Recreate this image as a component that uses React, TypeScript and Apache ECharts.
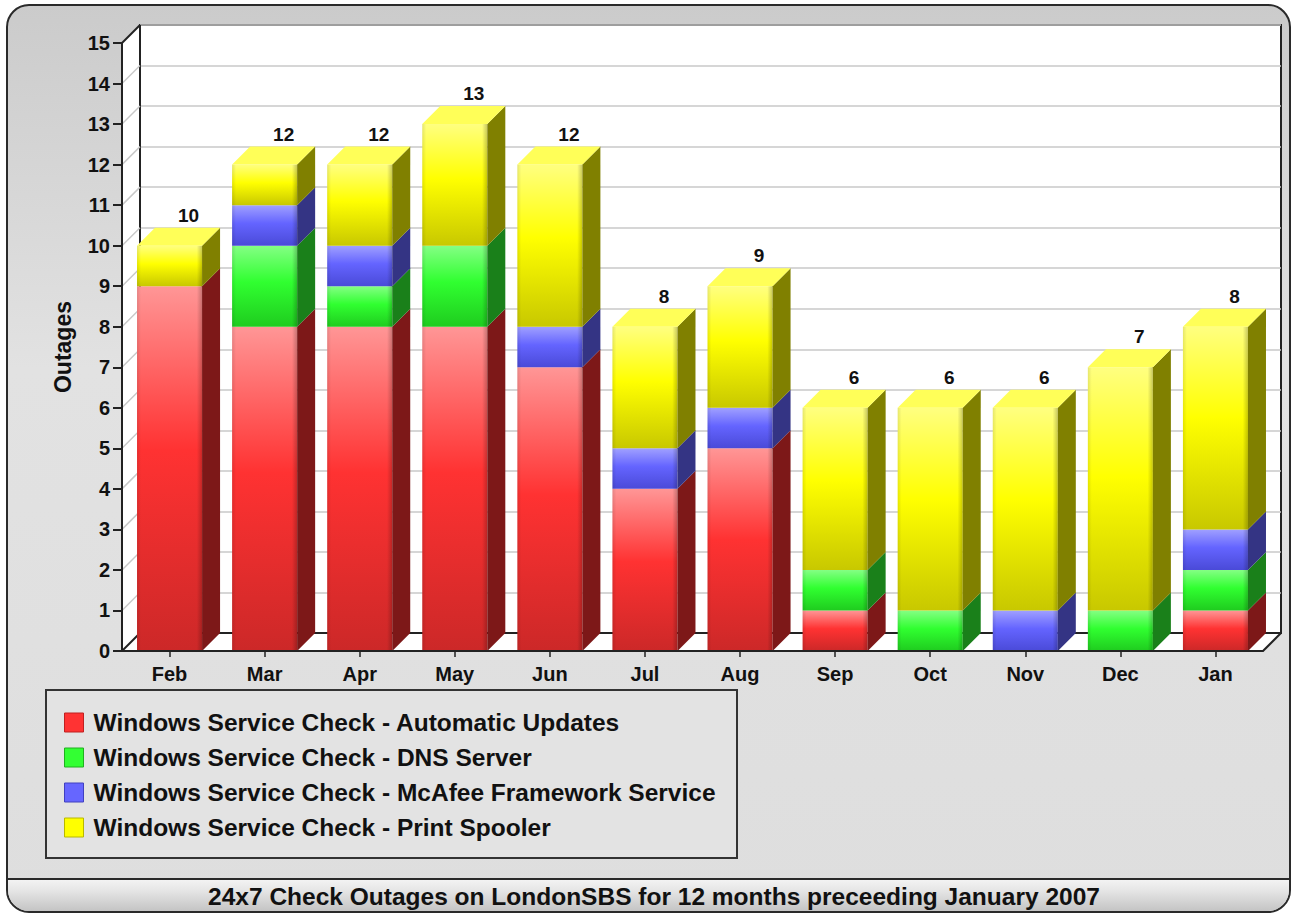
import React, { useEffect, useRef } from 'react';
import * as echarts from 'echarts';

const months = ['Feb', 'Mar', 'Apr', 'May', 'Jun', 'Jul', 'Aug', 'Sep', 'Oct', 'Nov', 'Dec', 'Jan'];
const automaticUpdates = [9, 8, 8, 8, 7, 4, 5, 1, 0, 0, 0, 1];
const dnsServer = [0, 2, 1, 2, 0, 0, 0, 1, 1, 0, 1, 1];
const mcafeeFramework = [0, 1, 1, 0, 1, 1, 1, 0, 0, 1, 0, 1];
const printSpooler = [1, 1, 2, 3, 4, 3, 3, 4, 5, 5, 6, 5];
const yTicks = [0, 1, 2, 3, 4, 5, 6, 7, 8, 9, 10, 11, 12, 13, 14, 15];
const seriesNames = [
  'Windows Service Check - Automatic Updates',
  'Windows Service Check - DNS Server',
  'Windows Service Check - McAfee Framework Service',
  'Windows Service Check - Print Spooler',
];
const chartTitle = '24x7 Check Outages on LondonSBS for 12 months preceeding January 2007';
const yAxisName = 'Outages';

const FONT = '"Liberation Sans", Arial, Helvetica, sans-serif';
const DX = 18;
const DY = 18;
const BAR_RATIO = 0.684;

const palettes = [
  { light: '#ff9696', base: '#ff3232', dark: '#cc2828', side: '#7d1818', top: '#ff6a6a', legend: '#ff3333', legendBorder: '#c02020' },
  { light: '#84ff84', base: '#30ff30', dark: '#1fcc1f', side: '#1a801a', top: '#66ff66', legend: '#33ff33', legendBorder: '#20b020' },
  { light: '#a0a0ff', base: '#6464ff', dark: '#4a4ad8', side: '#343484', top: '#8a8aff', legend: '#6666ff', legendBorder: '#4040c0' },
  { light: '#ffff80', base: '#ffff00', dark: '#c8c800', side: '#808000', top: '#ffff58', legend: '#ffff00', legendBorder: '#b8b800' },
];

const stacks = [automaticUpdates, dnsServer, mcafeeFramework, printSpooler];

function makeBarRender(pal: any) {
  return (params: any, api: any) => {
    const idx = api.value(0);
    const base = api.value(1);
    const val = api.value(2);
    const isTop = api.value(3);
    if (!val) return { type: 'group', children: [] };
    const pB = api.coord([idx, base]);
    const pT = api.coord([idx, base + val]);
    const bw = api.size([1, 0])[0] * BAR_RATIO;
    const x0 = pB[0] - bw / 2;
    const x1 = x0 + bw;
    const yB = pB[1];
    const yT = pT[1];
    const children: any[] = [
      {
        type: 'rect',
        shape: { x: x0, y: yT, width: bw, height: yB - yT },
        style: {
          fill: new echarts.graphic.LinearGradient(0, 0, 0, 1, [
            { offset: 0, color: pal.light },
            { offset: 0.45, color: pal.base },
            { offset: 1, color: pal.dark },
          ]),
        },
      },
      {
        type: 'rect',
        shape: { x: x0, y: yT, width: bw, height: yB - yT },
        style: {
          fill: new echarts.graphic.LinearGradient(0, 0, 1, 0, [
            { offset: 0, color: 'rgba(0,0,0,0.10)' },
            { offset: 0.06, color: 'rgba(0,0,0,0)' },
            { offset: 0.92, color: 'rgba(0,0,0,0)' },
            { offset: 1, color: 'rgba(0,0,0,0.22)' },
          ]),
        },
      },
      {
        type: 'polygon',
        shape: { points: [[x1, yT], [x1 + DX, yT - DY], [x1 + DX, yB - DY], [x1, yB]] },
        style: { fill: pal.side },
      },
    ];
    if (isTop) {
      children.push({
        type: 'polygon',
        shape: { points: [[x0, yT], [x0 + DX, yT - DY], [x1 + DX, yT - DY], [x1, yT]] },
        style: { fill: pal.top },
      });
    }
    return { type: 'group', children };
  };
}

export default function App() {
  const ref = useRef<HTMLDivElement>(null);

  useEffect(() => {
    if (!ref.current) return;
    const chart = echarts.init(ref.current, undefined, { renderer: 'svg' });

    const totals = months.map((_, i) => stacks.reduce((s, arr) => s + arr[i], 0));

    const barSeries = stacks.map((arr, si) => {
      const data = months.map((_, i) => {
        let base = 0;
        for (let k = 0; k < si; k++) base += stacks[k][i];
        let topIdx = -1;
        for (let k = 0; k < stacks.length; k++) if (stacks[k][i] > 0) topIdx = k;
        return [i, base, arr[i], topIdx === si ? 1 : 0];
      });
      return {
        type: 'custom',
        name: seriesNames[si],
        xAxisIndex: 0,
        yAxisIndex: 0,
        clip: false,
        z: 3,
        itemStyle: { color: palettes[si].legend },
        encode: { x: 0, y: 2 },
        data,
        renderItem: makeBarRender(palettes[si]),
      };
    });

    const wallSeries = {
      type: 'custom',
      name: 'walls',
      xAxisIndex: 0,
      yAxisIndex: 0,
      clip: false,
      z: 1,
      silent: true,
      encode: { x: 0, y: 1 },
      data: yTicks.map((v) => [0, v]),
      renderItem: (params: any, api: any) => {
        const cs = params.coordSys;
        const left = cs.x;
        const right = cs.x + cs.width;
        const top = cs.y;
        const bottom = cs.y + cs.height;
        const v = api.value(1);
        const y = api.coord([0, v])[1];
        const children: any[] = [];
        if (v === 0) {
          children.push({
            type: 'polygon',
            shape: { points: [[left, bottom], [left, top], [left + DX, top - DY], [left + DX, bottom - DY]] },
            style: { fill: '#ffffff' },
          });
          children.push({
            type: 'polygon',
            shape: { points: [[left, bottom], [right, bottom], [right + DX, bottom - DY], [left + DX, bottom - DY]] },
            style: { fill: '#ffffff' },
          });
          children.push({
            type: 'line',
            shape: { x1: left + DX, y1: top - DY, x2: left + DX, y2: bottom - DY },
            style: { stroke: '#222', lineWidth: 2 },
          });
          children.push({
            type: 'line',
            shape: { x1: left + DX, y1: bottom - DY, x2: right + DX, y2: bottom - DY },
            style: { stroke: '#222', lineWidth: 2 },
          });
          children.push({
            type: 'line',
            shape: { x1: right, y1: bottom, x2: right + DX, y2: bottom - DY },
            style: { stroke: '#222', lineWidth: 2 },
          });
        }
        const edge = v === 0 || v === yTicks[yTicks.length - 1];
        children.push({
          type: 'line',
          shape: { x1: left, y1: y, x2: left + DX, y2: y - DY },
          style: { stroke: edge ? '#222' : '#c8c8c8', lineWidth: edge ? 2 : 1.5 },
        });
        return { type: 'group', children };
      },
    };

    const labelSeries = {
      type: 'custom',
      name: 'totals',
      xAxisIndex: 0,
      yAxisIndex: 0,
      clip: false,
      z: 5,
      silent: true,
      encode: { x: 0, y: 1 },
      data: totals.map((t, i) => [i, t]),
      renderItem: (params: any, api: any) => {
        const p = api.coord([api.value(0), api.value(1)]);
        return {
          type: 'text',
          x: p[0] + DX + 1,
          y: p[1] - DY - 3,
          style: {
            text: String(api.value(1)),
            fill: '#111',
            fontSize: 19,
            fontWeight: 'bold',
            fontFamily: FONT,
            align: 'center',
            verticalAlign: 'bottom',
          },
        };
      },
    };

    const option: any = {
      animation: false,
      grid: [
        { left: 122, top: 43, width: 1141, height: 608, show: false },
        {
          left: 122 + DX,
          top: 43 - DY,
          width: 1141,
          height: 608,
          show: true,
          backgroundColor: '#ffffff',
          borderColor: '#222',
          borderWidth: 2,
        },
      ],
      xAxis: [
        {
          type: 'category',
          gridIndex: 0,
          data: months,
          boundaryGap: true,
          axisLine: { show: true, lineStyle: { color: '#222', width: 2 } },
          axisTick: { show: true, alignWithLabel: true, length: 6, lineStyle: { color: '#222', width: 1.5 } },
          axisLabel: { color: '#111', fontSize: 20, fontWeight: 'bold', fontFamily: FONT, margin: 13 },
          splitLine: { show: false },
          z: 6,
        },
        { type: 'category', gridIndex: 1, data: months, show: false },
      ],
      yAxis: [
        {
          type: 'value',
          gridIndex: 0,
          min: 0,
          max: 15,
          interval: 1,
          name: yAxisName,
          nameLocation: 'middle',
          nameRotate: 90,
          nameGap: 48,
          nameTextStyle: { color: '#111', fontSize: 23, fontWeight: 'bold', fontFamily: FONT },
          axisLine: { show: true, lineStyle: { color: '#222', width: 2 } },
          axisTick: { show: true, length: 9, lineStyle: { color: '#222', width: 2 } },
          axisLabel: { color: '#111', fontSize: 20, fontWeight: 'bold', fontFamily: FONT, margin: 12 },
          splitLine: { show: false },
          z: 6,
        },
        {
          type: 'value',
          gridIndex: 1,
          min: 0,
          max: 15,
          interval: 1,
          axisLine: { show: false },
          axisTick: { show: false },
          axisLabel: { show: false },
          splitLine: { show: true, lineStyle: { color: '#c8c8c8', width: 1.5 } },
        },
      ],
      legend: {
        orient: 'vertical',
        left: 64,
        top: 710,
        itemWidth: 19,
        itemHeight: 19,
        itemGap: 10,
        icon: 'rect',
        selectedMode: false,
        padding: 0,
        textStyle: { color: '#111', fontSize: 24.5, fontWeight: 'bold', fontFamily: FONT, padding: [0, 0, 0, 5] },
        data: seriesNames.map((n, i) => ({
          name: n,
          itemStyle: { color: palettes[i].legend, borderColor: palettes[i].legendBorder, borderWidth: 1 },
        })),
      },
      graphic: [
        {
          type: 'rect',
          z: -20,
          silent: true,
          shape: { x: 7, y: 5, width: 1283, height: 907, r: 22 },
          style: {
            fill: new echarts.graphic.LinearGradient(0, 0, 0, 1, [
              { offset: 0, color: '#cbcbcb' },
              { offset: 0.4, color: '#e2e2e2' },
              { offset: 1, color: '#dedede' },
            ]),
            stroke: '#2a2a2a',
            lineWidth: 2,
          },
        },
        {
          type: 'rect',
          z: -19,
          silent: true,
          shape: { x: 8, y: 879, width: 1281, height: 32, r: [0, 0, 21, 21] },
          style: {
            fill: new echarts.graphic.LinearGradient(0, 0, 0, 1, [
              { offset: 0, color: '#f4f4f4' },
              { offset: 0.35, color: '#e6e6e6' },
              { offset: 1, color: '#c4c4c4' },
            ]),
          },
        },
        {
          type: 'line',
          z: -18,
          silent: true,
          shape: { x1: 8, y1: 879, x2: 1289, y2: 879 },
          style: { stroke: '#2a2a2a', lineWidth: 2 },
        },
        {
          type: 'text',
          z: 10,
          silent: true,
          x: 654,
          y: 896,
          style: {
            text: chartTitle,
            fill: '#111',
            fontSize: 24.5,
            fontWeight: 'bold',
            fontFamily: FONT,
            align: 'center',
            verticalAlign: 'middle',
          },
        },
        {
          type: 'rect',
          z: -5,
          silent: true,
          shape: { x: 46, y: 690, width: 691, height: 168 },
          style: { fill: '#e3e3e3', stroke: '#333', lineWidth: 2 },
        },
      ],
      series: [wallSeries, ...barSeries, labelSeries],
    };

    chart.setOption(option);
    return () => chart.dispose();
  }, []);

  return (
    <div
      ref={ref}
      style={{ position: 'absolute', left: 0, top: 0, width: 1297, height: 917 }}
    />
  );
}
